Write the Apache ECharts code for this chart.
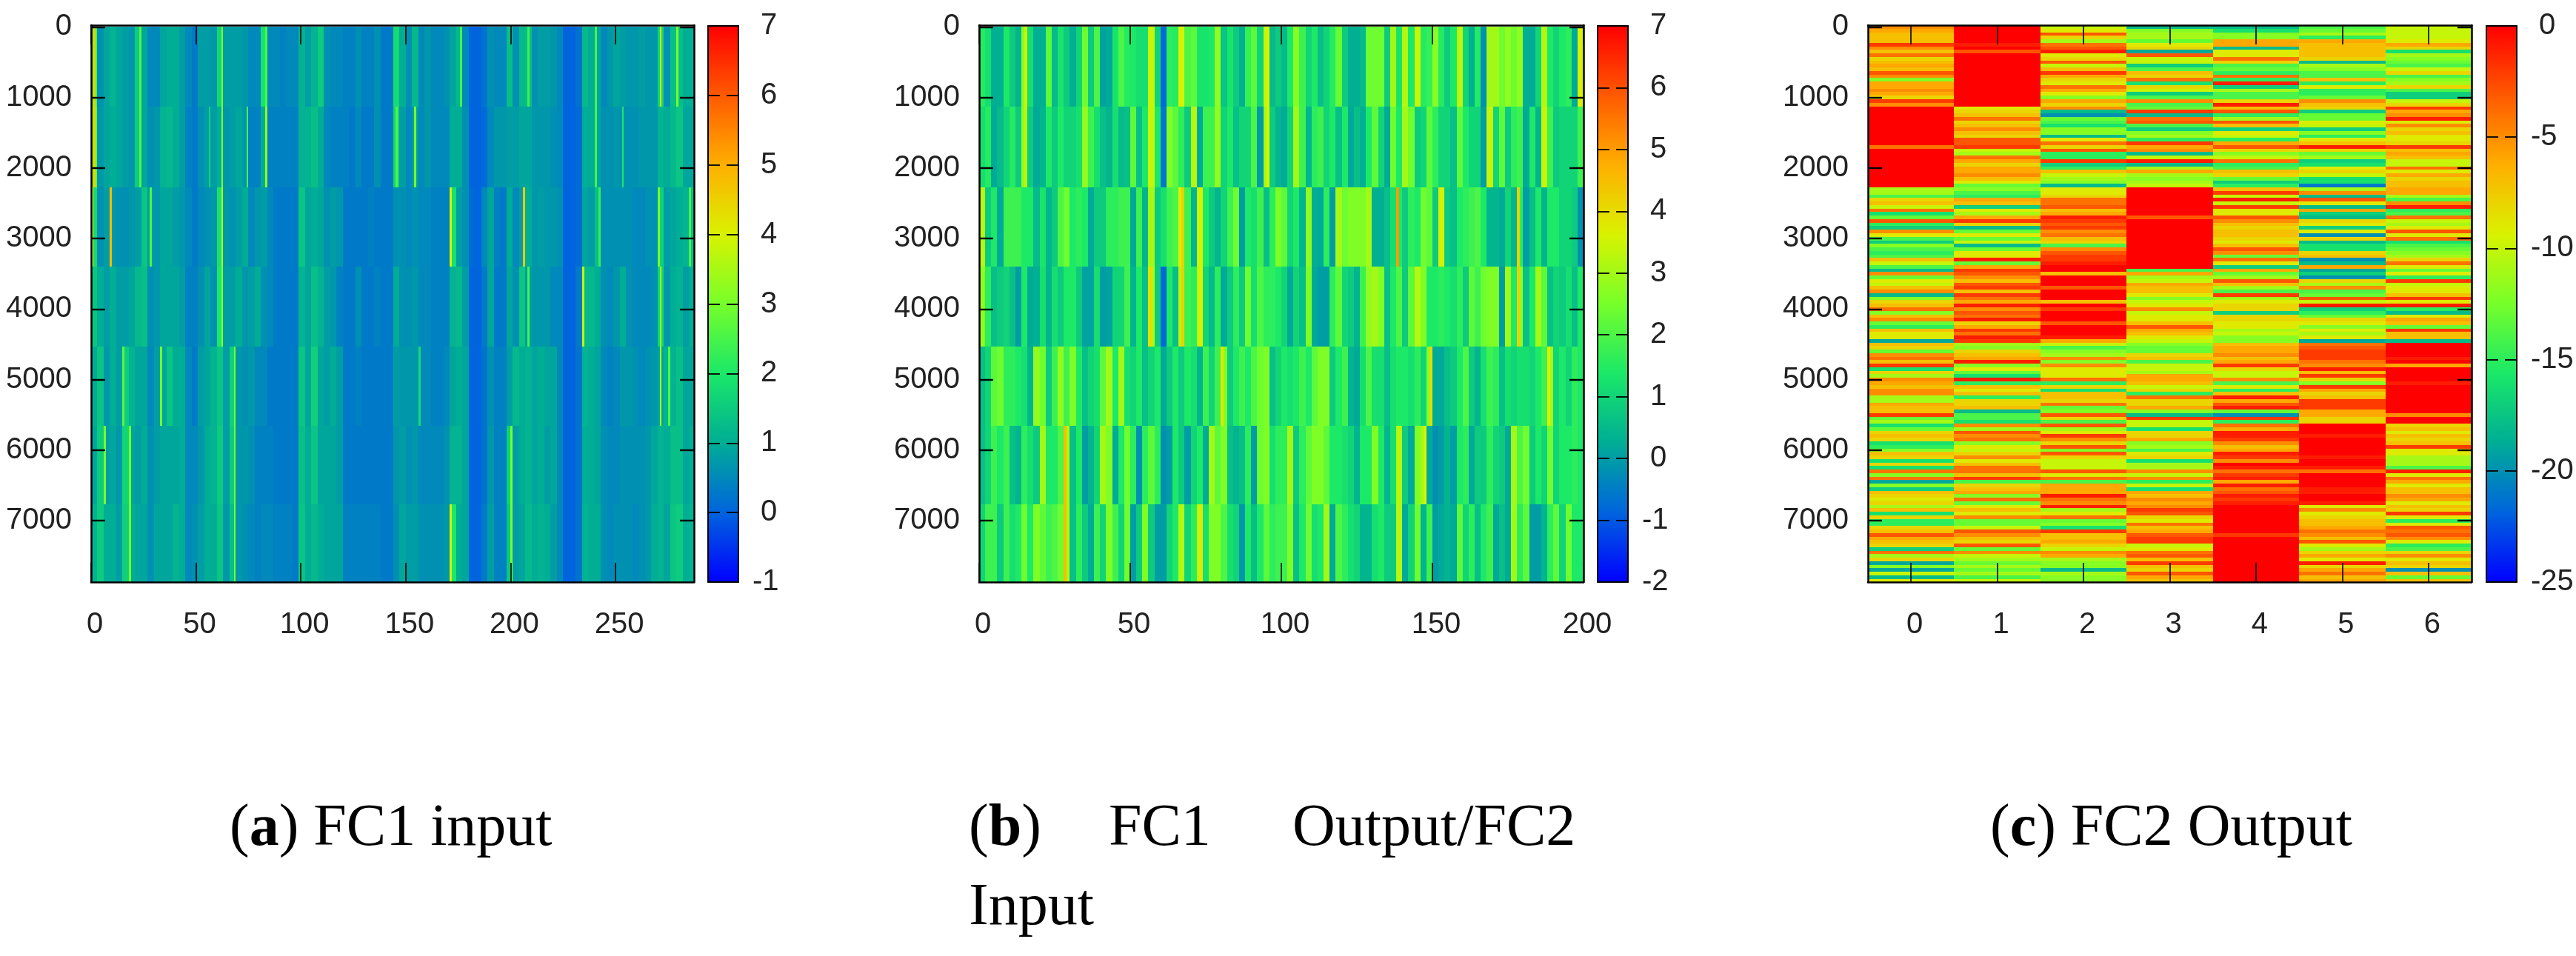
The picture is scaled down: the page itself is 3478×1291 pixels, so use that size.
<!DOCTYPE html>
<html>
<head>
<meta charset="utf-8">
<script src="https://cdn.jsdelivr.net/npm/echarts@6/dist/echarts.min.js"></script>
<style>html,body{margin:0;background:#fff}#container{width:3478px;height:1291px}</style>
</head>
<body>
<div id="container"></div>
<script>
var yTicks = [0, 1000, 2000, 3000, 4000, 5000, 6000, 7000];
var xTicksA = [0, 50, 100, 150, 200, 250];
var xTicksB = [0, 50, 100, 150, 200];
var xTicksC = [0, 1, 2, 3, 4, 5, 6];

// row bands that show up in panels a and b
var bandEdges = [0, 1130, 2270, 3400, 4530, 5650, 6770, 7900];

// panel a: 3 units per bin, values in tenths
var a0 = [25,6,9,11,9,8,7,15,9,5,5,9,10,10,8,5,3,8,8,7,17,8,8,8,7,5,5,19,5,5,4,5,5,11,8,11,15,6,5,5,4,4,6,4,4,6,3,3,18,10,6,12,5,7,5,5,6,9,12,5,0,0,2,6,5,5,13,6,12,13,6,8,8,7,5,0,0,2,12,10,9,5,7,9,8,7,7,8,7,7,17,6,13,13,10,10];
var a1 = [28,7,9,10,9,8,7,15,9,6,7,11,12,10,8,4,3,6,8,8,10,7,8,9,7,4,4,10,4,4,4,4,4,11,11,13,10,5,4,4,4,3,5,3,3,6,3,3,17,8,5,8,5,7,5,5,5,10,10,6,0,0,1,5,7,7,8,8,9,9,7,7,7,6,5,0,0,1,10,10,9,6,6,7,6,6,6,7,7,7,11,10,12,14,9,9];
var a2 = [18,6,8,7,6,6,7,8,14,8,7,9,9,8,7,5,3,5,6,7,19,7,6,8,10,5,7,8,5,3,3,3,3,14,9,10,9,6,8,7,3,3,3,3,4,3,3,3,6,6,5,6,5,5,4,4,4,19,8,6,1,0,5,9,4,3,10,5,8,10,7,8,7,7,6,0,0,1,9,8,13,6,6,6,6,6,5,5,6,6,16,8,9,10,11,13];
var a3 = [14,10,8,10,8,8,9,12,13,6,7,9,9,9,8,4,4,6,9,6,20,8,8,10,7,8,10,6,5,3,3,3,3,11,9,13,11,8,7,4,3,3,6,3,3,4,3,3,10,6,6,7,5,5,4,4,4,11,12,8,0,0,3,9,3,3,9,6,14,8,7,7,7,5,5,0,0,3,12,12,10,6,5,7,10,6,5,5,5,6,17,7,10,11,8,10];
var a4 = [10,14,7,10,8,15,11,9,9,5,8,9,14,10,10,5,3,8,9,11,14,8,16,7,6,7,5,5,3,3,3,3,3,14,9,16,9,8,10,8,3,3,4,3,3,3,3,3,8,7,7,7,5,5,4,4,5,9,10,9,0,0,2,6,4,4,8,12,10,11,9,10,9,9,5,0,0,2,11,10,9,5,4,5,7,7,6,5,6,7,9,11,11,13,9,9];
var a5 = [9,15,8,9,7,17,9,8,10,6,8,9,9,9,10,5,5,7,10,11,15,8,15,7,7,6,4,4,4,3,3,3,3,13,10,14,9,9,9,8,3,3,3,3,3,3,3,3,7,8,6,7,5,5,5,5,6,11,11,9,0,0,2,7,4,4,16,8,10,11,9,10,8,9,5,0,0,2,10,10,9,6,5,5,6,6,6,6,7,9,11,10,13,13,9,10];
var a6 = [11,15,10,10,8,16,10,9,9,6,9,9,9,11,10,5,6,8,10,10,14,7,13,7,6,5,4,5,5,4,4,4,3,14,10,12,10,9,9,9,4,4,4,4,4,4,3,3,6,9,8,8,6,6,6,6,7,20,10,9,0,0,3,8,4,4,14,8,9,12,10,11,10,8,5,0,0,2,11,10,10,6,5,6,6,6,5,6,7,10,11,9,14,15,10,11];
// thin bright lines: column, first band, last band, value in tenths
var aLines = [[1,0,1,45],[0,2,2,40],[9,2,2,48],[62,0,1,30],[62,2,2,36],[62,3,3,32],[83,1,1,33],[83,0,0,26],[74,1,1,25],[56,1,1,17],[33,4,4,30],[15,4,4,27],[68,4,6,30],[23,0,1,26],[28,2,2,26],[6,5,5,30],[18,5,6,30],[154,1,1,30],[171,2,2,40],[171,6,6,40],[206,2,2,46],[145,1,1,26],[253,1,1,20],[271,0,0,40],[271,3,4,35],[270,2,2,30],[200,5,6,30],[279,0,0,30],[234,3,3,38],[275,4,4,26],[156,4,4,18],[208,3,3,25],[285,2,2,25],[240,0,1,25],[176,0,0,25],[242,2,2,23],[208,0,0,24]];

// panel b: 2 units per bin, values in tenths
var b0 = [15,12,3,3,14,8,4,27,12,3,3,22,5,13,8,3,10,24,8,20,1,2,13,20,15,14,12,12,34,10,-8,16,15,36,20,22,13,13,14,28,7,13,8,3,17,22,10,34,5,8,5,14,27,18,10,14,6,10,15,23,8,3,3,5,24,24,24,8,30,13,32,14,34,15,17,27,15,8,14,33,10,3,15,-2,30,30,24,28,24,28,3,2,10,32,14,10,14,16,2,36];
var b1 = [12,15,2,5,10,15,8,28,8,2,4,14,8,14,10,10,12,28,18,12,6,4,12,5,6,22,6,14,34,14,-6,26,22,16,8,32,2,18,18,28,10,14,6,10,10,20,0,30,8,4,2,10,30,18,4,16,18,10,14,6,14,2,6,3,14,22,10,2,24,14,30,24,8,10,22,16,10,10,6,22,14,10,10,0,34,10,22,8,16,18,2,14,4,34,18,8,10,10,10,18];
var b2 = [32,8,14,2,18,18,18,14,14,5,13,4,8,20,24,14,16,14,2,8,8,16,16,18,18,2,18,4,30,8,12,18,20,36,18,4,34,14,8,4,10,18,24,0,14,12,18,6,16,26,22,10,14,4,28,3,2,16,0,30,24,26,26,26,30,3,3,6,12,14,8,16,14,24,22,8,36,8,6,14,16,18,20,14,4,4,2,10,4,16,0,6,14,4,14,14,10,10,8,-2];
var b3 = [28,16,6,8,10,6,0,14,2,3,12,4,12,8,14,14,8,1,1,12,0,1,10,10,18,4,14,6,32,8,-8,14,6,32,18,16,34,10,5,16,2,8,16,8,24,12,20,16,16,14,10,2,10,6,26,2,0,0,16,22,10,8,4,18,28,30,26,6,14,20,8,22,32,26,14,14,16,14,12,16,8,22,18,24,26,26,0,30,14,28,6,14,30,22,6,10,8,12,6,14];
var b4 = [6,10,22,24,16,16,14,12,4,28,24,8,18,28,18,26,14,6,10,12,22,30,14,30,12,10,14,6,10,14,2,8,14,8,14,12,4,18,10,18,26,8,14,18,14,20,24,26,6,10,14,12,14,18,14,22,26,26,8,14,18,4,2,12,20,12,12,6,12,14,14,12,16,10,26,2,2,6,8,14,20,8,4,12,18,16,6,12,10,12,12,10,14,18,30,10,14,10,16,14];
var b5 = [6,10,18,14,18,6,4,16,12,8,30,14,14,20,32,6,14,0,4,10,30,26,2,14,24,16,-2,16,22,16,-2,0,14,8,0,10,14,2,30,22,26,6,4,6,16,0,24,26,12,16,16,30,8,16,22,26,26,22,14,14,12,10,4,14,14,26,14,4,12,32,8,2,26,30,2,-2,0,4,0,14,16,2,8,8,16,10,8,2,30,20,24,8,14,10,24,10,14,14,16,14];
var b6 = [10,18,18,8,18,12,14,24,14,26,22,18,20,24,32,6,16,8,2,18,10,26,18,10,24,0,8,26,8,0,0,10,14,32,10,16,34,12,26,26,20,12,10,-1,14,6,14,22,16,18,18,26,6,14,24,12,14,30,2,20,16,12,10,4,4,12,14,8,8,32,2,10,24,4,18,0,2,4,2,22,10,16,6,14,18,2,6,2,30,16,22,0,0,4,16,22,10,24,14,14];
var bLines = [[138,2,2,50],[149,4,4,40],[147,5,5,36],[28,5,6,45],[80,4,4,38],[15,0,0,35],[15,1,1,33],[188,4,4,36],[178,2,3,42],[67,2,3,42],[73,2,3,36],[73,6,6,38],[56,3,3,39],[95,0,1,36]];

// panel c: one value per 50 rows
var c0 = [-5,-6,-7,-7,-7,-2,-5,-7,-4,-8,-7,-6,-7,-3,-5,-12,-6,-6,-5,-6,-8,-2,-5,0,0,0,0,0,0,0,0,0,0,0,-4,0,0,0,0,0,0,0,0,0,0,0,-11,-11,-14,-8,-7,-10,-4,-16,-13,-3,-15,-17,-5,-9,-14,-17,-12,-14,-15,-14,-7,-10,-14,-18,-5,-13,-9,-10,-7,-5,-18,-12,-8,-7,-4,-12,-7,-5,-13,-15,-7,-9,-9,-19,-7,-8,-13,-5,-4,-7,-2,-16,-8,-11,-5,-6,-7,-5,-5,-11,-11,-6,-7,-7,-2,-13,-11,-16,-13,-8,-7,-8,-16,-15,-12,-7,-8,-16,-8,-16,-4,-12,-4,-19,-12,-17,-7,-8,-9,-8,-11,-7,-16,-8,-15,-15,-8,-7,-3,-6,-7,-8,-17,-4,-11,-8,-19,-12,-19,-10,-18,-9];
var c1 = [0,0,0,0,0,-1,0,-3,0,0,0,0,0,0,0,0,0,0,0,0,0,0,0,-9,-8,-7,-4,-8,-7,-5,-7,-8,-3,-3,-2,-10,-11,-4,-6,-8,-6,-6,-5,-7,-9,-13,-12,-14,-15,-6,-7,-17,-9,-11,-6,-2,-8,-18,-13,-9,-13,-10,-18,-13,-9,-9,-1,-13,-6,-2,-3,-5,-7,-3,-2,-7,-2,-4,-6,-1,-5,-3,-4,-1,-8,-6,-2,-4,-1,-2,-11,-12,-8,-7,-6,-1,-12,-9,-13,-16,-1,-15,-7,-9,-7,-15,-8,-8,-7,-18,-14,-14,-16,-5,-11,-3,-5,-4,-12,-9,-10,-8,-5,-9,-7,-4,-4,-7,-2,-14,-8,-7,-6,-12,-4,-13,-9,-7,-9,-5,-13,-13,-10,-3,-5,-7,-8,-3,-13,-5,-10,-11,-13,-11,-13,-11,-14,-10];
var c2 = [-10,-9,-3,-8,-11,-4,-3,-1,-9,-8,-3,-10,-7,-2,-6,-8,-9,-4,-6,-9,-12,-6,-8,-5,-18,-20,-13,-14,-16,-12,-12,-18,-9,-4,-8,-3,-15,-15,-2,-17,-15,-7,-10,-11,-12,-18,-9,-9,-8,-4,-4,-3,-7,-6,-1,-2,-3,-2,-5,-4,-7,-8,-14,-5,-3,-2,-2,-1,0,0,-7,0,0,0,-3,0,0,0,-7,0,-2,0,0,0,-3,0,0,0,-1,-6,-10,-14,-12,-11,-5,-12,-5,-9,-9,-9,-4,-15,-8,-16,-7,-7,-8,-4,-13,-12,-3,-8,-14,-3,-11,-9,-2,-5,-8,-3,-12,-3,-8,-10,-10,-10,-3,-9,-4,-14,-6,-6,-6,-1,-4,-5,-1,-11,-9,-4,-13,-12,-16,-2,-7,-7,-6,-8,-10,-5,-6,-11,-12,-12,-18,-11,-12,-12];
var c3 = [-18,-12,-11,-11,-13,-9,-8,-19,-3,-10,-10,-17,-14,-7,-8,-4,-16,-8,-10,-17,-14,-5,-14,-13,-2,-18,-4,-3,-14,-17,-12,-11,-15,-2,-6,-5,-18,-10,-1,-18,-11,-6,-11,-12,-11,-10,0,0,0,0,0,0,0,0,-3,0,0,0,0,0,0,0,0,0,0,0,0,0,0,-14,-6,-11,-10,-6,-7,-7,-9,-12,-10,-9,-5,-10,-9,-9,-7,-3,-6,-7,-9,-10,-12,-13,-13,-8,-7,-14,-10,-10,-11,-6,-6,-7,-10,-8,-15,-4,-8,-8,-6,-12,-18,-2,-10,-10,-16,-8,-8,-6,-12,-11,-14,-9,-8,-16,-11,-11,-5,-10,-5,-15,-10,-16,-6,-7,-5,-6,-5,-2,-3,-8,-9,-4,-7,-6,-3,-2,-2,-10,-9,-4,-3,-7,-2,-7,-8,-3,-6,-7];
var c4 = [-18,-16,-12,-12,-6,-6,-18,-9,-9,-4,-8,-14,-13,-15,-4,-15,-1,-17,-11,-14,-14,-8,-1,-7,-3,-15,-11,-3,-7,-17,-9,-10,-15,-6,-3,-8,-12,-10,-4,-15,-14,-7,-8,-13,-17,-15,-7,-2,-10,-1,-10,-2,-9,-9,-3,-5,-7,-8,-7,-7,-8,-9,-7,-3,-5,-13,-4,-9,-17,-6,-13,-11,-3,-7,-11,-14,-2,-11,-9,-8,-8,-17,-8,-8,-9,-9,-11,-10,-12,-12,-7,-6,-6,-5,-7,-6,-2,-8,-10,-10,-5,-14,-9,-15,-7,-1,-6,-3,-1,-13,-20,-2,-15,-4,-6,-1,-1,-2,-5,-7,-6,-1,-2,-5,0,-1,-4,-2,-1,-6,-1,-4,-3,-1,-2,-1,0,0,0,0,0,0,0,0,-2,0,0,0,0,0,0,0,0,0,0,0,0,0];
var c5 = [-14,-13,-11,-15,-6,-7,-7,-7,-7,-8,-18,-11,-12,-14,-14,-7,-15,-9,-15,-15,-13,-5,-7,-8,-17,-13,-13,-9,-10,-17,-12,-15,-9,-7,-1,-8,-13,-11,-17,-16,-9,-8,-10,-16,-16,-21,-11,-5,-18,-3,-9,-18,-6,-17,-18,-8,-9,-17,-9,-20,-8,-18,-16,-16,-8,-7,-20,-18,-6,-19,-17,-20,-8,-11,-5,-14,-13,-3,-10,-1,-17,-15,-13,-8,-9,-12,-9,-11,-9,-19,-4,-3,-2,-2,-2,-4,-5,-1,-7,-2,-8,-12,-2,-6,-8,-7,-2,-2,-2,-6,-6,-8,-8,0,0,0,-1,0,0,0,0,0,-1,0,0,-1,-4,0,0,0,0,-1,-1,0,0,-1,-9,-5,-9,-8,-7,-7,-6,-4,-5,-7,-3,-9,-11,-8,-6,-9,-1,-8,-6,-4,-7,-6];
var c6 = [-10,-10,-10,-10,-9,-6,-8,-16,-11,-12,-13,-14,-10,-8,-14,-12,-11,-8,-14,-17,-17,-10,-8,-2,-6,-5,-1,-9,-5,-8,-7,-9,-9,-8,-2,-7,-6,-7,-10,-10,-4,-9,-6,-8,-7,-7,-6,-6,-11,-14,-5,-1,-15,-14,-4,-10,-11,-9,-3,-9,-4,-16,-14,-13,-12,-11,-8,-4,-9,-13,-9,-15,-2,-10,-9,-9,-7,-2,-9,-1,-15,-18,-9,-6,-7,-13,-2,-7,-7,-18,0,0,0,0,-1,0,-6,0,0,0,0,-1,0,0,0,0,0,0,0,0,-5,0,0,-8,-7,-9,-7,-8,-7,-2,-9,-9,-11,-11,-11,-14,-1,-9,-4,-6,-9,-7,-7,-5,-6,-9,-7,-8,-2,-9,-15,-9,-3,-4,-3,-5,-9,-15,-14,-8,-5,-9,-7,-8,-20,-7,-13,-7];

// gnuplot style palette, evenly spaced from low to high
var palette = ['#0000ff','#0064de','#00ad95','#1ae868','#76ff2a','#d9f200','#ffaf00','#ff5a00','#ff0000'];
var labelFont = '"Liberation Sans Narrow","Liberation Sans",sans-serif';

function bandCells(bands, lines, binWidth) {
    var cells = [];
    bands.forEach(function (band, b) {
        band.forEach(function (v, i) {
            cells.push([i * binWidth, (i + 1) * binWidth, bandEdges[b], bandEdges[b + 1], v / 10]);
        });
    });
    lines.forEach(function (l) {
        cells.push([l[0], l[0] + 1, bandEdges[l[1]], bandEdges[l[2] + 1], l[3] / 10]);
    });
    return cells;
}

function rowCells(cols) {
    var cells = [];
    cols.forEach(function (col, c) {
        col.forEach(function (v, k) {
            cells.push([c - 0.5, c + 0.5, k * 50 - 25, k * 50 + 25, v]);
        });
    });
    return cells;
}

function renderCell(params, api) {
    var p0 = api.coord([api.value(0), api.value(2)]);
    var p1 = api.coord([api.value(1), api.value(3)]);
    var x = Math.round(p0[0]), y = Math.round(p0[1]);
    return {
        type: 'rect',
        shape: { x: x, y: y, width: Math.round(p1[0]) - x, height: Math.round(p1[1]) - y },
        style: { fill: api.visual('color') }
    };
}

function plain(v) {
    return '' + v;
}

var panels = [
    { left: 123, width: 814, xMin: 0, xMax: 287.4, xTicks: xTicksA, barLeft: 956, vMin: -1, vMax: 7, vStep: 1,
      cells: bandCells([a0, a1, a2, a3, a4, a5, a6], aLines, 3) },
    { left: 1322, width: 816, xMin: 0, xMax: 200, xTicks: xTicksB, barLeft: 2157, vMin: -2, vMax: 7, vStep: 1,
      cells: bandCells([b0, b1, b2, b3, b4, b5, b6], bLines, 2) },
    { left: 2522, width: 815, xMin: -0.5, xMax: 6.5, xTicks: xTicksC, barLeft: 3357, vMin: -25, vMax: 0, vStep: 5,
      cells: rowCells([c0, c1, c2, c3, c4, c5, c6]) }
];

var plotTop = 34, plotHeight = 752, yMin = -25, yMax = 7870;
var barWidth = 41;
var line = { show: true, onZero: false, lineStyle: { color: '#000', width: 2.5 } };

var grid = [], xAxis = [], yAxis = [], series = [], visualMap = [];

panels.forEach(function (p, n) {
    var g = n * 2, gb = n * 2 + 1;
    grid.push({ left: p.left, top: plotTop, width: p.width, height: plotHeight });
    grid.push({ left: p.barLeft, top: plotTop + 1, width: barWidth, height: plotHeight - 1 });

    var xTick = { show: true, inside: true, length: 26, customValues: p.xTicks, lineStyle: { color: '#000', width: 1.6 } };
    xAxis.push({ type: 'value', gridIndex: g, position: 'bottom', min: p.xMin, max: p.xMax, z: 5, axisLine: line, splitLine: { show: false }, axisTick: xTick,
        axisLabel: { customValues: p.xTicks, margin: 38, padding: [0, 0, 0, 10], fontFamily: labelFont, fontSize: 40, color: '#222', formatter: plain } });
    xAxis.push({ type: 'value', gridIndex: g, position: 'top', min: p.xMin, max: p.xMax, z: 5, axisLine: line, splitLine: { show: false }, axisTick: xTick, axisLabel: { show: false } });

    var yTick = { show: true, inside: true, length: 19, customValues: yTicks, lineStyle: { color: '#000', width: 2.4 } };
    yAxis.push({ type: 'value', gridIndex: g, inverse: true, position: 'left', min: yMin, max: yMax, z: 5, axisLine: line, splitLine: { show: false }, axisTick: yTick,
        axisLabel: { customValues: yTicks, margin: 26, fontFamily: labelFont, fontSize: 40, color: '#222', formatter: plain } });
    yAxis.push({ type: 'value', gridIndex: g, inverse: true, position: 'right', min: yMin, max: yMax, z: 5, axisLine: line, splitLine: { show: false }, axisTick: yTick, axisLabel: { show: false } });

    // colour bar frame, the gradient itself comes from the visualMap
    xAxis.push({ type: 'value', gridIndex: gb, position: 'bottom', min: 0, max: 1, z: 8, axisLine: { show: true, onZero: false, lineStyle: { color: '#000', width: 2 } }, splitLine: { show: false }, axisTick: { show: false }, axisLabel: { show: false } });
    xAxis.push({ type: 'value', gridIndex: gb, position: 'top', min: 0, max: 1, z: 8, axisLine: { show: true, onZero: false, lineStyle: { color: '#000', width: 2 } }, splitLine: { show: false }, axisTick: { show: false }, axisLabel: { show: false } });
    var barTick = { show: true, inside: true, length: 16, lineStyle: { color: '#000', width: 1.8 } };
    yAxis.push({ type: 'value', gridIndex: gb, position: 'left', min: p.vMin, max: p.vMax, interval: p.vStep, z: 8, axisLine: { show: true, onZero: false, lineStyle: { color: '#000', width: 2 } }, splitLine: { show: false }, axisTick: barTick, axisLabel: { show: false } });
    yAxis.push({ type: 'value', gridIndex: gb, position: 'right', min: p.vMin, max: p.vMax, interval: p.vStep, z: 8, axisLine: { show: true, onZero: false, lineStyle: { color: '#000', width: 2 } }, splitLine: { show: false }, axisTick: barTick,
        axisLabel: { margin: 19, fontFamily: labelFont, fontSize: 40, color: '#222', formatter: function (v) { return v < 0 ? '' + v : ' ' + v; } } });

    series.push({ type: 'custom', xAxisIndex: n * 4, yAxisIndex: n * 4, data: p.cells, renderItem: renderCell,
        encode: { x: [0, 1], y: [2, 3] }, clip: true, silent: true, progressive: 0, animation: false });

    visualMap.push({ type: 'continuous', seriesIndex: n, dimension: 4, min: p.vMin, max: p.vMax, calculable: false, hoverLink: false,
        left: p.barLeft, top: plotTop + 1, itemWidth: barWidth, itemHeight: plotHeight - 1, padding: 0, orient: 'vertical',
        inRange: { color: palette } });
});

var captionFont = { fontFamily: '"Liberation Serif",serif', fontSize: 80, fontWeight: 'normal', color: '#000' };
function caption(text, left, top) {
    return { text: text, left: left, top: top, padding: 0, textStyle: Object.assign({}, captionFont, {
        rich: { n: { fontFamily: captionFont.fontFamily, fontSize: 80, color: '#000' }, b: { fontFamily: captionFont.fontFamily, fontSize: 80, fontWeight: 'bold', color: '#000' } } }) };
}
var title = [
    caption('{n|(}{b|a}{n|) FC1 input}', 310, 1080),
    caption('{n|(}{b|b}{n|)}', 1308, 1080),
    caption('{n|FC1}', 1497, 1080),
    caption('{n|Output/FC2}', 1745, 1080),
    caption('{n|Input}', 1308, 1187),
    caption('{n|(}{b|c}{n|) FC2 Output}', 2687, 1080)
];

var dom = document.getElementById('container');
var myChart = echarts.init(dom);
var option = {
    animation: false,
    backgroundColor: '#fff',
    title: title,
    grid: grid,
    xAxis: xAxis,
    yAxis: yAxis,
    visualMap: visualMap,
    series: series
};
myChart.setOption(option, true);
</script>
</body>
</html>
